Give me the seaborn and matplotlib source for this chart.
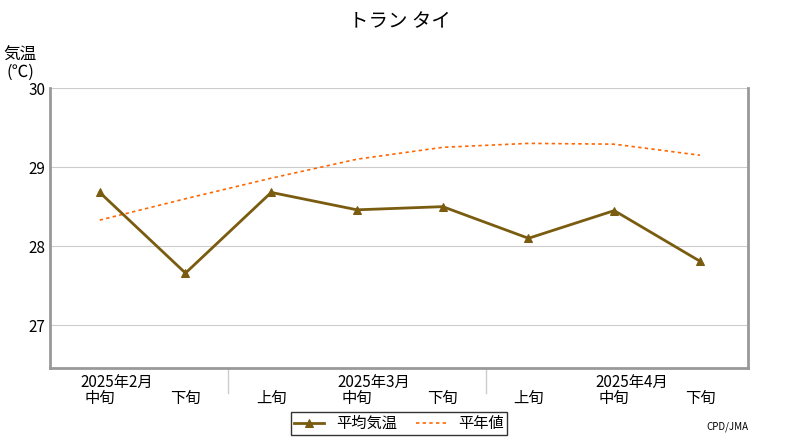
import matplotlib
matplotlib.use("Agg")
import matplotlib.pyplot as plt
import seaborn as sns
import pandas as pd

plt.rcParams["font.family"] = "Noto Sans CJK JP"

periods = ["中旬", "下旬", "上旬", "中旬", "下旬", "上旬", "中旬", "下旬"]
months = ["2025年2月", "2025年3月", "2025年4月"]
avg_temp = [28.68, 27.66, 28.68, 28.46, 28.50, 28.10, 28.45, 27.81]
normal = [28.33, 28.60, 28.86, 29.10, 29.25, 29.30, 29.29, 29.15]

df = pd.DataFrame({"x": range(len(periods)), "avg": avg_temp, "normal": normal})

fig = plt.figure(figsize=(8, 4.4), dpi=100)
ax = fig.add_axes([0.0625, 0.1636, 0.8725, 0.6364])
sns.lineplot(data=df, x="x", y="normal", ax=ax, color="#ff6600", linestyle=(0, (2, 2)), lw=1.2, label="平年値")
sns.lineplot(data=df, x="x", y="avg", ax=ax, color="#7a5c10", lw=2, marker="^", markersize=6,
             markeredgecolor="#7a5c10", label="平均気温")

ax.set_xlim(-0.58, 7.56)
ax.set_ylim(26.46, 30)
ax.set_yticks([27, 28, 29, 30])
ax.set_yticklabels(["27", "28", "29", "30"], fontsize=11)
ax.grid(axis="y", color="#cccccc", lw=0.8)
ax.set_axisbelow(True)
ax.set_xticks(range(len(periods)))
ax.set_xticklabels(periods, fontsize=11)
ax.tick_params(axis="x", length=0, pad=16)
ax.tick_params(axis="y", length=0)
ax.set_xlabel("")
ax.set_ylabel("")
for s in ["left", "right", "bottom"]:
    ax.spines[s].set_color("#999999")
    ax.spines[s].set_linewidth(2)
ax.spines["top"].set_visible(False)

for i, m in enumerate(months):
    ax.text(0.2 + 3 * i, -0.02, m, transform=ax.get_xaxis_transform(), ha="center", va="top", fontsize=11)
for xs in [1.5, 4.5]:
    ax.plot([xs, xs], [0, -0.09], transform=ax.get_xaxis_transform(), color="#cccccc", lw=1, clip_on=False)

h, l = ax.get_legend_handles_labels()
ax.legend(h[::-1], l[::-1], loc="upper center", bbox_to_anchor=(0.5, -0.13), ncol=2, fontsize=11,
          frameon=True, fancybox=False, edgecolor="black", borderpad=0.2, handlelength=2, columnspacing=1.2)

fig.text(0.5, 0.95, "トラン タイ", ha="center", va="center", fontsize=14)
fig.text(0.025, 0.855, "気温\n(℃)", ha="center", va="center", fontsize=12, linespacing=1.0)
fig.text(0.935, 0.03, "CPD/JMA", ha="right", va="center", fontsize=7)

fig.savefig("out.png", dpi=100)
